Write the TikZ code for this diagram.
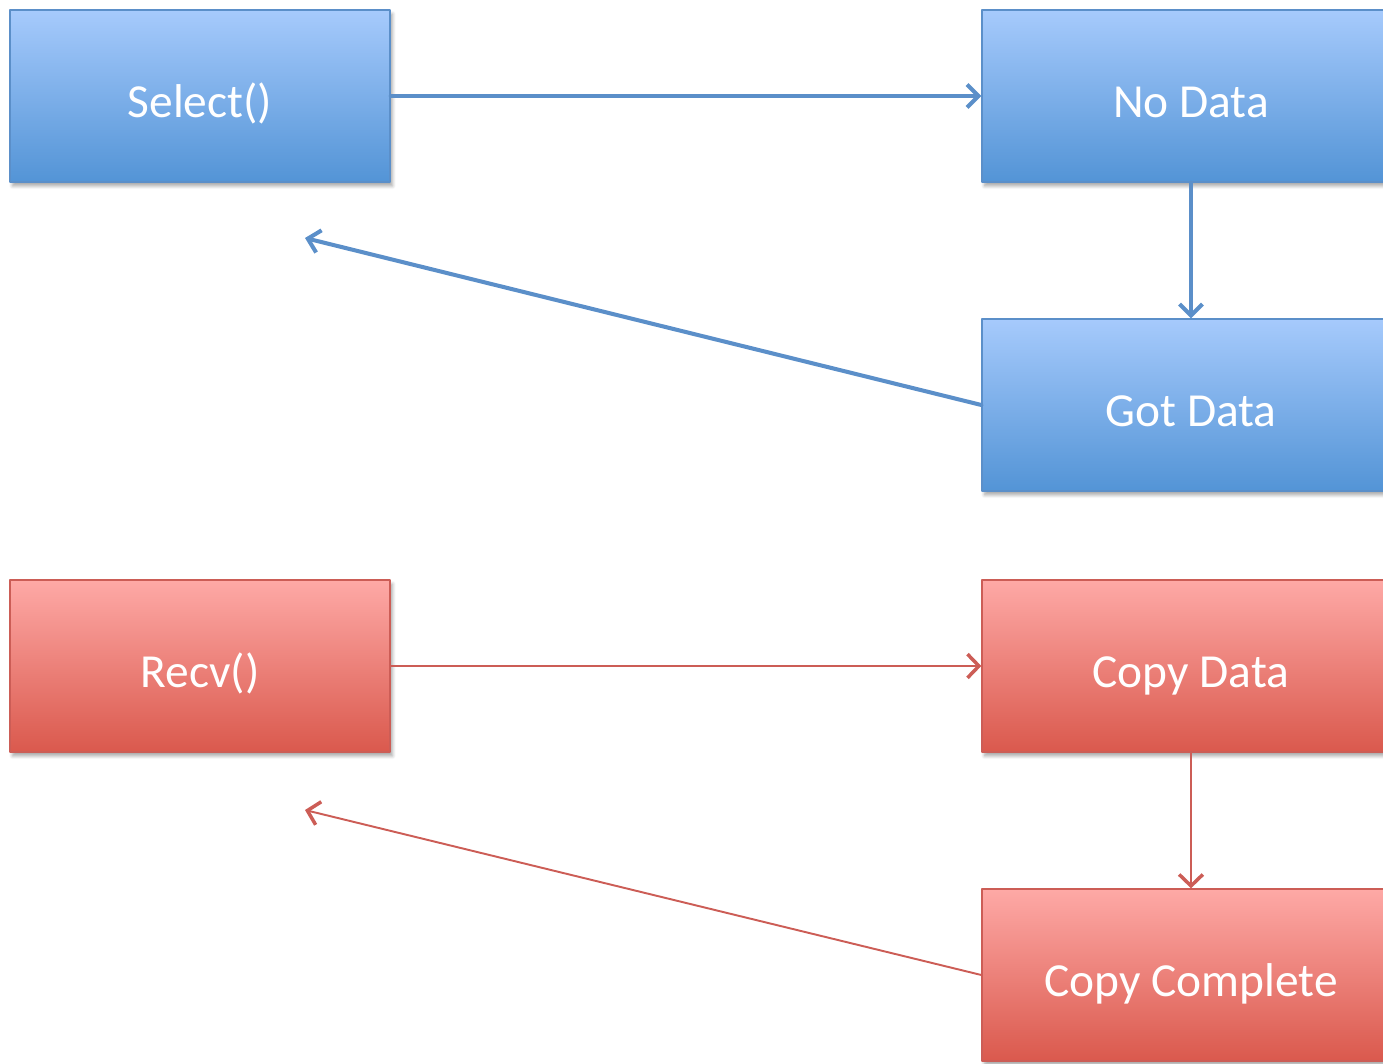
\documentclass[tikz,border=0pt]{standalone}
\usepackage{fontspec}
\setmainfont{Carlito}
\usetikzlibrary{arrows.meta,shadows.blur}

\definecolor{bluetop}{HTML}{A6CAFC}
\definecolor{bluebot}{HTML}{5394D6}
\definecolor{blueline}{HTML}{5B8FC9}
\definecolor{redtop}{HTML}{FEA9A6}
\definecolor{redbot}{HTML}{DA594D}
\definecolor{redline}{HTML}{CC5D56}

\tikzset{
  state/.style={rectangle, minimum height=3.44cm, text=white, line width=0.8pt,
    font=\fontsize{27}{31}\selectfont, text height=24pt, text depth=0pt,
    blur shadow={shadow blur steps=6, shadow xshift=0.5mm, shadow yshift=-0.8mm, shadow opacity=35}},
  bluestate/.style={state, top color=bluetop, bottom color=bluebot, draw=blueline},
  redstate/.style={state, top color=redtop, bottom color=redbot, draw=redline},
  bluearrow/.style={draw=blueline, line width=2.3pt,
    -{Straight Barb[length=6.5pt,width=13pt,line width=2.3pt]}},
  redarrow/.style={draw=redline, line width=1.1pt,
    -{Straight Barb[length=6.5pt,width=13.5pt,line width=2pt]}},
}

\begin{document}
\begin{tikzpicture}[x=0.02cm, y=-0.02cm, line join=round, line cap=round]
	\useasboundingbox (0,0) rectangle (1383,1064);
	\clip (0,0) rectangle (1383,1064);
	% select path
	\node[bluestate, minimum width=7.6cm]  (select)  at (200,96)  {Select()};
	\node[bluestate, minimum width=8.36cm] (nodata)  at (1191,96) {No Data};
	\node[bluestate, minimum width=8.36cm] (gotdata) at (1191,405) {Got Data};
	\coordinate (selret) at (305,238);
	% recv path
	\node[redstate, minimum width=7.6cm]  (recv)     at (200,666)  {Recv()};
	\node[redstate, minimum width=8.36cm] (copydata) at (1191,666) {Copy Data};
	\node[redstate, minimum width=8.36cm] (copydone) at (1191,975) {Copy Complete};
	\coordinate (recvret) at (305,810);

	\draw[bluearrow] (select.east) -- (nodata.west);
	\draw[bluearrow] (nodata.south) -- (gotdata.north);
	\draw[bluearrow] (gotdata.west) -- (selret);
	\draw[redarrow] (recv.east) -- (copydata.west);
	\draw[redarrow] (copydata.south) -- (copydone.north);
	\draw[redarrow] (copydone.west) -- (recvret);
\end{tikzpicture}
\end{document}
